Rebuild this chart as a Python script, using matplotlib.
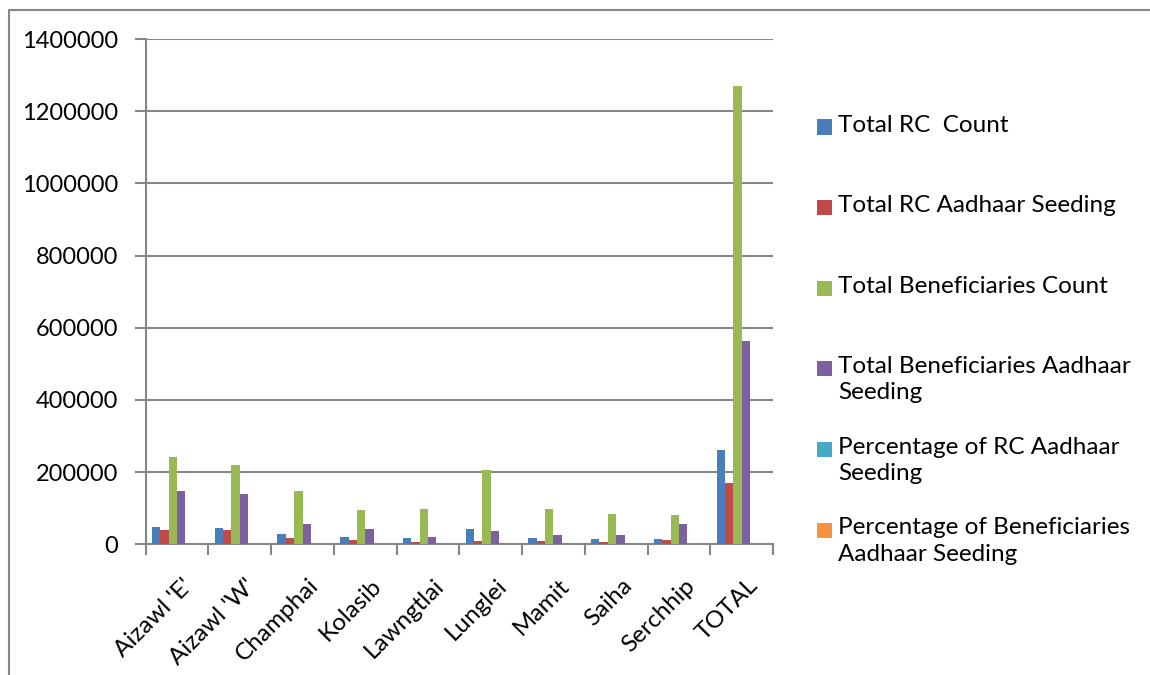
import numpy as np
import matplotlib
matplotlib.use("Agg")
import matplotlib.pyplot as plt
import matplotlib.transforms as mtransforms
from matplotlib.patches import Rectangle
from matplotlib.lines import Line2D

plt.rcParams['font.family'] = ['Lato', 'DejaVu Sans']

districts = ["Aizawl 'E'", "Aizawl 'W'", "Champhai", "Kolasib", "Lawngtlai",
             "Lunglei", "Mamit", "Saiha", "Serchhip", "TOTAL"]

rc_count = [49000, 45500, 29000, 19500, 17500, 42000, 17700, 15000, 15600, 262000]
rc_seeding = [40000, 39000, 18500, 12000, 5500, 9300, 8400, 6500, 13000, 169000]
ben_count = [243000, 219000, 147000, 96000, 99000, 205000, 98000, 84000, 80000, 1271000]
ben_seeding = [147000, 138000, 55000, 43000, 20500, 37000, 27000, 27000, 57600, 562000]
pct_rc_seeding = [82, 86, 64, 62, 31, 22, 47, 43, 83, 64]
pct_ben_seeding = [60, 63, 37, 45, 21, 18, 28, 32, 72, 44]

series = [rc_count, rc_seeding, ben_count, ben_seeding, pct_rc_seeding, pct_ben_seeding]
labels = ["Total RC  Count", "Total RC Aadhaar Seeding", "Total Beneficiaries Count",
          "Total Beneficiaries Aadhaar\nSeeding", "Percentage of RC Aadhaar\nSeeding",
          "Percentage of Beneficiaries\nAadhaar Seeding"]
colors = ["#4A7EBB", "#BE4B48", "#98B954", "#7D60A0", "#46AAC5", "#F69240"]

W, H = 1150, 675
fig = plt.figure(figsize=(W / 100, H / 100), dpi=100)
ax = fig.add_axes([145.7 / W, 1 - 544.3 / H, (773 - 145.7) / W, (544.3 - 39) / H])

x = np.arange(len(districts))
w = 1 / 7.5
for j, (vals, c) in enumerate(zip(series, colors)):
    ax.bar(x + (j - 2.5) * w, vals, width=w, color=c, edgecolor='none', zorder=3)

ax.set_xlim(-0.5, len(districts) - 0.5)
ax.set_ylim(0, 1400000)
ax.set_yticks(np.arange(0, 1400001, 200000))
ax.set_yticklabels([str(v) for v in range(0, 1400001, 200000)], fontsize=17)
ax.yaxis.grid(True, color='#868686', linewidth=1.5, zorder=0)

ax.set_xticks(np.arange(-0.5, len(districts), 1))
ax.set_xticklabels([])
ax.set_xticks(x, minor=True)
ax.set_xticklabels(districts, minor=True, rotation=45, ha='right', va='top',
                   rotation_mode='anchor', fontsize=17.5)
ax.tick_params(axis='x', which='minor', length=0, pad=22)
ax.tick_params(axis='x', which='major', length=8, width=1.5, color='#868686', direction='out')
ax.tick_params(axis='y', length=8, width=1.5, color='#868686', direction='out', pad=12)

shift = mtransforms.ScaledTranslation(5 / 100, 0, fig.dpi_scale_trans)
for lbl in ax.get_xticklabels(minor=True):
    lbl.set_transform(lbl.get_transform() + shift)

for s in ['top', 'right']:
    ax.spines[s].set_visible(False)
for s in ['left', 'bottom']:
    ax.spines[s].set_color('#868686')
    ax.spines[s].set_linewidth(1.5)

# legend drawn by hand so the box sits at the first line of each entry
for i, (lab, c) in enumerate(zip(labels, colors)):
    yc = 127 + i * 80.6
    fig.patches.append(Rectangle((817 / W, 1 - (yc + 7.5) / H), 15 / W, 15 / H,
                                 transform=fig.transFigure, facecolor=c, edgecolor='none'))
    fig.text(838 / W, 1 - (yc - 12.5) / H, lab, fontsize=17.5, va='top', ha='left',
             linespacing=1.3)

# chart border (left and top edges are visible)
fig.add_artist(Line2D([9 / W, 9 / W, 1], [0, 1 - 9.5 / H, 1 - 9.5 / H],
                      transform=fig.transFigure, color='#878787', linewidth=1.5))

fig.savefig("out.png", dpi=100)
